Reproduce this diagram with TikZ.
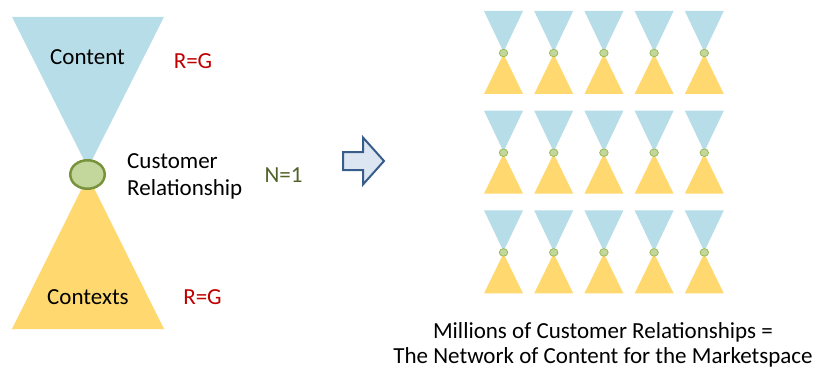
\documentclass[tikz,border=0pt]{standalone}
\usepackage{fontspec}
\setmainfont{Carlito}
\usetikzlibrary{shapes.geometric}
\definecolor{cblue}{HTML}{B7DDE8}
\definecolor{cyellow}{HTML}{FFD96F}
\definecolor{cgreen}{HTML}{C3D69B}
\definecolor{cgreenline}{HTML}{77933C}
\definecolor{cgreensmall}{HTML}{9BBB59}
\definecolor{cred}{HTML}{C00000}
\definecolor{ctextgreen}{HTML}{4F6228}
\definecolor{carrowfill}{HTML}{DCE6F2}
\definecolor{carrowline}{HTML}{385D8A}
\begin{document}
\begin{tikzpicture}[x=1pt,y=-1pt,
  lbl/.style={font=\fontsize{23}{27}\selectfont, inner sep=0pt, anchor=base},
  redlbl/.style={lbl, text=cred},
  relnode/.style={ellipse, draw=cgreenline, fill=cgreen, line width=2.5pt, minimum width=34.5pt, minimum height=28.5pt, inner sep=0pt},
  smallrel/.style={ellipse, draw=cgreensmall, fill=cgreen, line width=0.8pt, minimum width=8.5pt, minimum height=7.5pt, inner sep=0pt}]
\useasboundingbox (0,0) rectangle (817,369);
% big hourglass
\fill[cblue] (12,17) -- (164,17) -- (88,168) -- cycle;
\fill[cyellow] (12,329) -- (164,329) -- (88,176) -- cycle;
\node[relnode] (rel) at (87.5,174.5) {};
\node[lbl] (content) at (87.5,65) {Content};
\node[lbl] (contexts) at (88,304) {Contexts};
\node[redlbl] (rg1) at (193,69) {R=G};
\node[redlbl] (rg2) at (202.5,304) {R=G};
\node[lbl, anchor=base west, align=left] (cust) at (127,195) {Customer\\Relationship};
\node[lbl, text=ctextgreen] (n1) at (283.5,182) {N=1};
% arrow
\draw[fill=carrowfill, draw=carrowline, line width=2pt, line join=miter]
  (343,152) -- (363,152) -- (363,137.5) -- (384,161) -- (363,184.5) -- (363,170) -- (343,170) -- cycle;
% grid of small hourglasses
\foreach \i in {0,...,4}{
  \foreach \j in {0,1,2}{
    \pgfmathsetmacro{\cx}{503.5+50.2*\i}
    \pgfmathsetmacro{\ty}{11+99.7*\j}
    \fill[cblue] (\cx-19.5,\ty) -- (\cx+19.5,\ty) -- (\cx,\ty+41) -- cycle;
    \fill[cyellow] (\cx-19.5,\ty+83) -- (\cx+19.5,\ty+83) -- (\cx,\ty+43) -- cycle;
    \node[smallrel] (s\i\j) at (\cx,\ty+42) {};
  }
}
\node[lbl, align=center, font=\fontsize{23}{25}\selectfont] (caption) at (603,363) {Millions of Customer Relationships =\\The Network of Content for the Marketspace};
\end{tikzpicture}
\end{document}
